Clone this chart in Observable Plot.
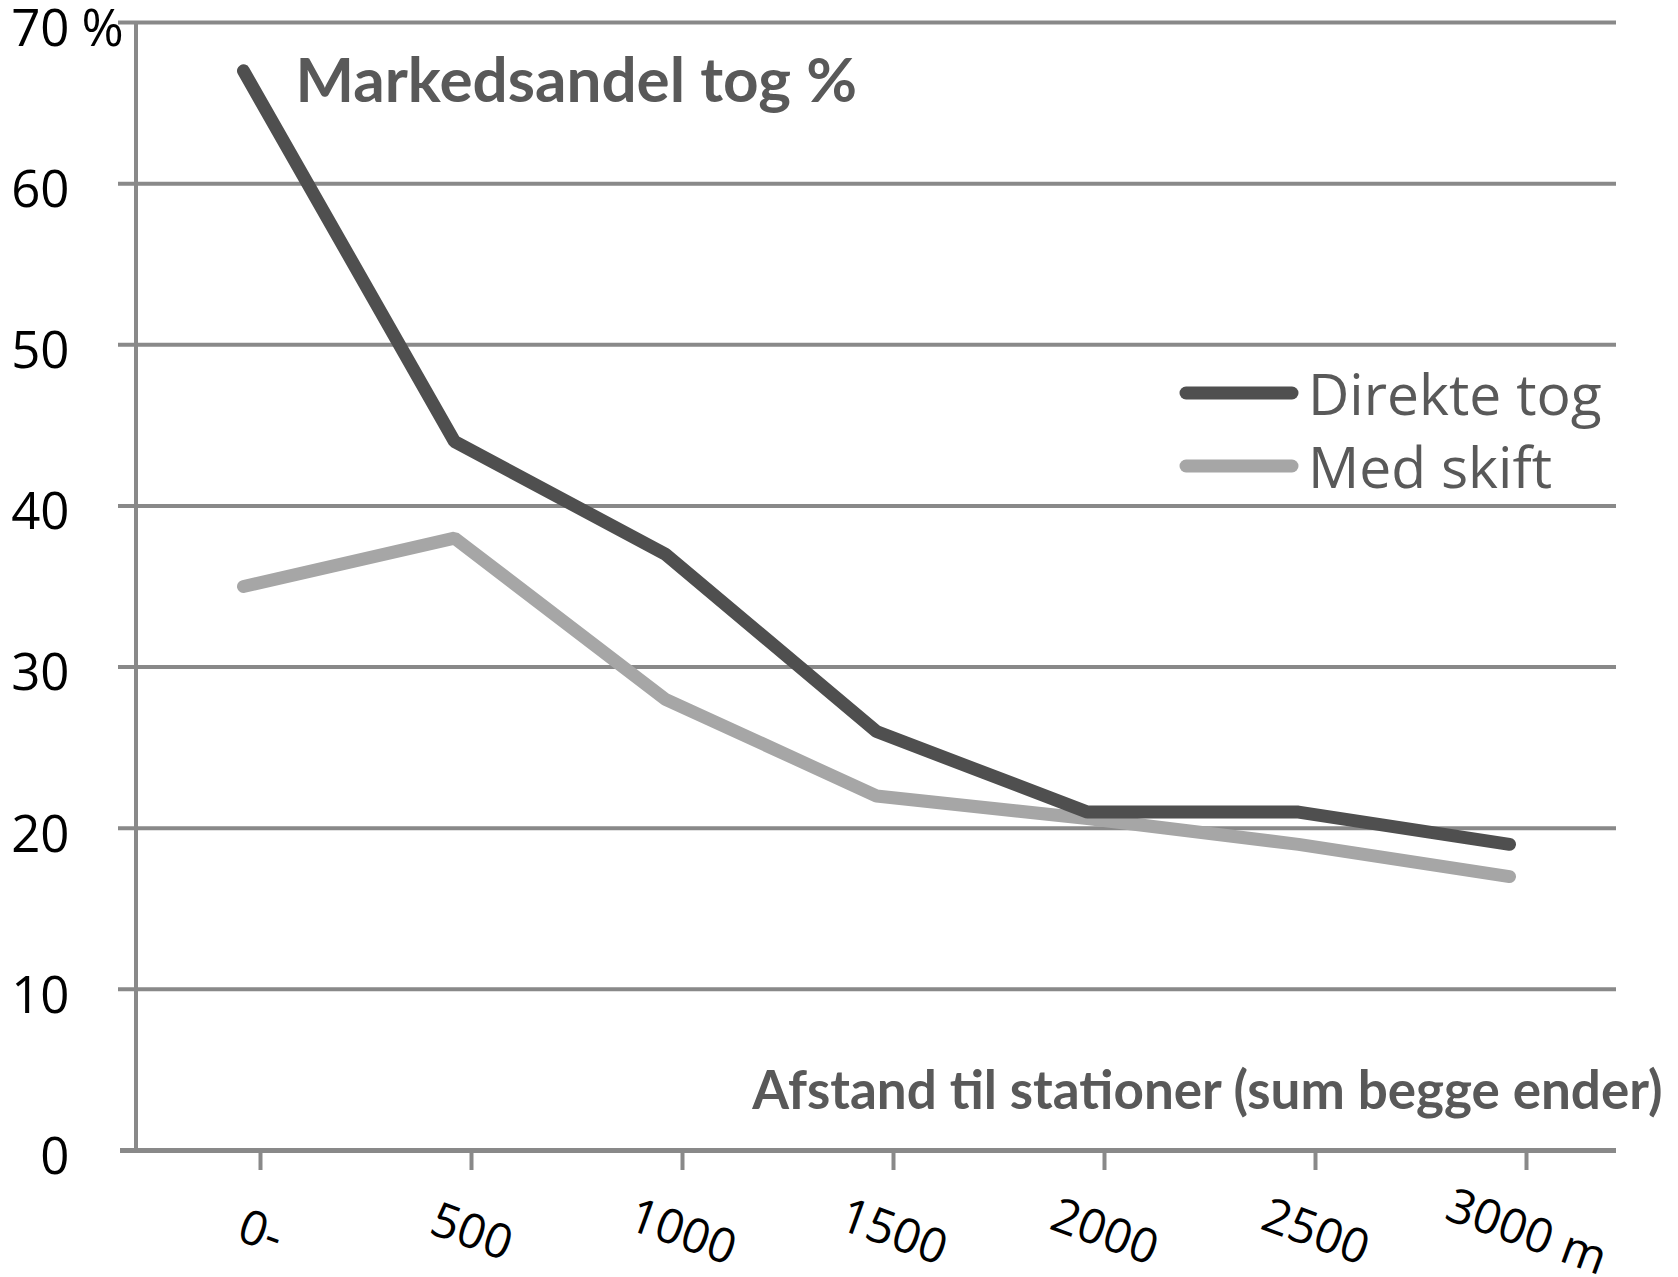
<!DOCTYPE html>
<html>
<head>
<meta charset="utf-8">
<script src="https://cdn.jsdelivr.net/npm/d3@7"></script>
<script src="https://cdn.jsdelivr.net/npm/@observablehq/plot@0.6"></script>
<style>
  html, body { margin: 0; padding: 0; background: #fff; }
</style>
</head>
<body>
<div id="chart"></div>
<script>
// ---- data ----
const categories = ["0-", "500", "1000", "1500", "2000", "2500", "3000 m"];
const direkteTog = [67, 44, 37, 26, 21, 21, 19];
const medSkift = [35, 38, 28, 22, 20.6, 19, 17];
const seriesNames = ["Direkte tog", "Med skift"];
const seriesColors = ["#4f4f4f", "#a6a6a6"];
const yTicks = [0, 10, 20, 30, 40, 50, 60, 70];
const titleText = "Markedsandel tog %";
const xTitleText = "Afstand til stationer (sum begge ender)";
const yUnit = "%";

// table for the library
const rows = [];
categories.forEach((c, i) => rows.push({cat: c, value: medSkift[i], series: seriesNames[1]}));
categories.forEach((c, i) => rows.push({cat: c, value: direkteTog[i], series: seriesNames[0]}));

const gridColor = "#898989";
const textGrey = "#595959";

function yAxisLine(index, scales, values, dims) {
  const l = d3.create("svg:line")
    .attr("x1", dims.marginLeft).attr("x2", dims.marginLeft)
    .attr("y1", scales.y(yTicks[yTicks.length - 1])).attr("y2", scales.y(0))
    .attr("stroke", gridColor).attr("stroke-width", 4);
  return l.node();
}

function legend(index, scales, values, dims) {
  const g = d3.create("svg:g");
  const x0 = 1186, x1 = 1292, tx = 1308;
  const ys = [393, 466];
  seriesNames.forEach((name, i) => {
    g.append("line")
      .attr("x1", x0).attr("x2", x1).attr("y1", ys[i]).attr("y2", ys[i])
      .attr("stroke", scales.color(name)).attr("stroke-width", 13)
      .attr("stroke-linecap", "round");
    g.append("text")
      .attr("x", tx).attr("y", ys[i] + 22)
      .attr("text-anchor", "start")
      .attr("font-family", "Open Sans").attr("font-size", 57)
      .attr("fill", textGrey)
      .text(name);
  });
  return g.node();
}

const chart = Plot.plot({
  width: 1678,
  height: 1277,
  marginLeft: 136,
  marginRight: 62,
  marginTop: 22,
  marginBottom: 127,
  style: {fontFamily: "Open Sans", background: "#fff"},
  x: {type: "point", domain: categories, padding: 0.5, axis: null},
  y: {domain: [0, 70], axis: null},
  color: {domain: seriesNames, range: seriesColors},
  marks: [
    Plot.ruleY(yTicks.slice(1), {y: d => d, stroke: gridColor, strokeWidth: 4, insetLeft: -18}),
    Plot.ruleY([0], {y: d => d, stroke: gridColor, strokeWidth: 5, insetLeft: -16}),
    yAxisLine,
    Plot.ruleX(categories, {x: d => d, y1: 0, y2: 0, insetBottom: -20, dx: 17, stroke: gridColor, strokeWidth: 4}),
    Plot.text(categories, {x: d => d, text: d => d, frameAnchor: "bottom", dx: 17, dy: 82,
      rotate: 20, textAnchor: "middle", lineAnchor: "middle", fontSize: 48, fill: "#000"}),
    Plot.text(yTicks, {y: d => d, text: d => String(d), frameAnchor: "left", dx: -67, dy: 7,
      textAnchor: "end", lineAnchor: "middle", fontSize: 51, fill: "#000"}),
    Plot.text([yTicks[yTicks.length - 1]], {y: d => d, text: () => yUnit, frameAnchor: "left", dx: -55, dy: 7,
      textAnchor: "start", lineAnchor: "middle", fontSize: 51, fill: "#000"}),
    Plot.line(rows, {x: "cat", y: "value", z: "series", stroke: "series", strokeWidth: 13,
      strokeLinecap: "round", strokeLinejoin: "miter"}),
    Plot.text([titleText], {text: d => d, frameAnchor: "top-left", dx: 159, dy: 79, textAnchor: "start",
      lineAnchor: "bottom", fontSize: 62, fontWeight: "bold", fontFamily: "Lato", fill: textGrey}),
    Plot.text([xTitleText], {text: d => d, frameAnchor: "bottom-right", dx: 46, dy: -42, textAnchor: "end",
      lineAnchor: "bottom", fontSize: 53, fontWeight: "bold", fontFamily: "Lato", fill: textGrey}),
    legend
  ]
});
document.getElementById("chart").appendChild(chart);
</script>
</body>
</html>
